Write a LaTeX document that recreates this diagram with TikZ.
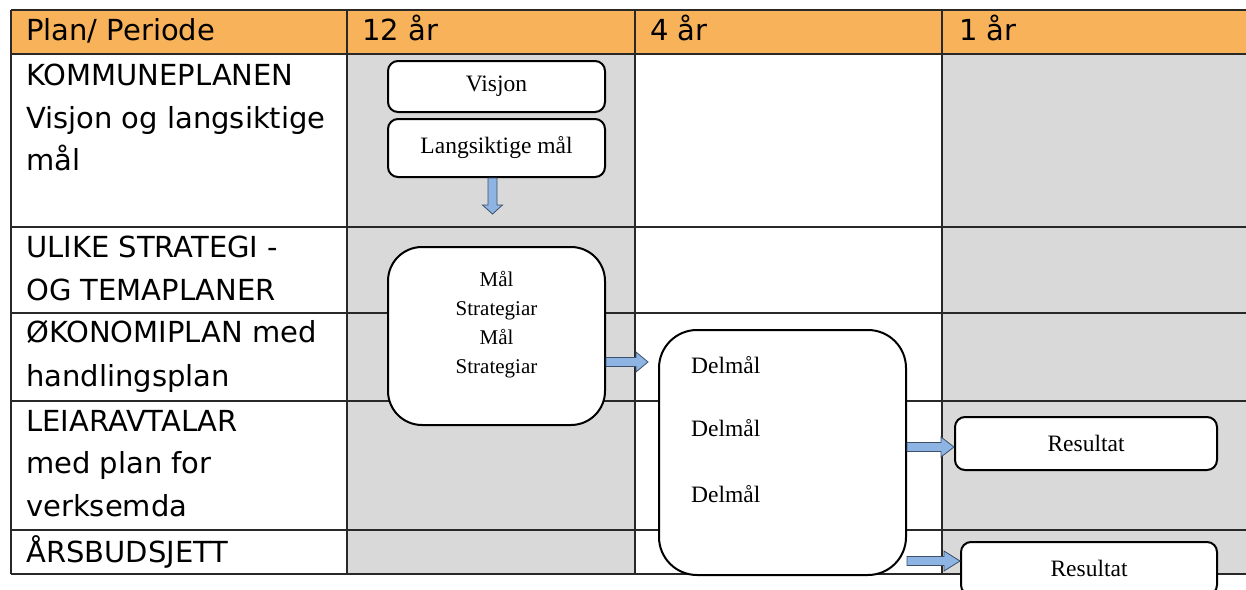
\documentclass[tikz,border=0pt]{standalone}
\usepackage{fontspec}
\setmainfont{Liberation Serif}
\newfontfamily\tablefont{DejaVu Sans}
\usetikzlibrary{calc}

\definecolor{headorange}{RGB}{247,178,90}
\definecolor{cellgray}{RGB}{217,217,217}
\definecolor{arrowblue}{RGB}{141,180,226}
\definecolor{arrowedge}{RGB}{60,80,105}
\definecolor{gridline}{RGB}{40,40,40}

\tikzset{
  celltext/.style={anchor=base west, inner sep=0pt, font=\tablefont\fontsize{29}{35}\selectfont},
  grid/.style={draw=gridline, line width=1.2pt},
  goalbox/.style={draw, line width=2pt, fill=white, rounded corners=10pt, inner sep=0pt,
    font=\fontsize{23.5}{28}\selectfont},
  goaltext/.style={inner sep=0pt, font=\fontsize{23.5}{28}\selectfont},
  blockarrow/.style={fill=arrowblue, draw=arrowedge, line width=0.8pt, line join=miter},
}

% block arrow: [head length]{start}{tip}
\newcommand\blockarrow[3][13pt]{%
  \coordinate (hb) at ($(#3)!#1!(#2)$);
  \draw[blockarrow] ($(#2)!4.5pt!90:(#3)$) -- ($(hb)!4.5pt!90:(#3)$) -- ($(hb)!10pt!90:(#3)$)
    -- (#3) -- ($(hb)!10pt!-90:(#3)$) -- ($(hb)!4.5pt!-90:(#3)$) -- ($(#2)!4.5pt!-90:(#3)$) -- cycle;
}

\begin{document}
\begin{tikzpicture}[x=1pt,y=-1pt]
  \useasboundingbox (0,0) rectangle (1246,589);
  \clip (0,0) rectangle (1246,589);

  % table
  \fill[headorange] (11,10) rectangle (1246,54);
  \fill[cellgray] (347,54) rectangle (635,574);
  \fill[cellgray] (942,54) rectangle (1246,574);
  \foreach \y in {10,54,227,313,401,530,574}
    \draw[grid] (11,\y) -- (1246,\y);
  \foreach \x in {11,347,635,942}
    \draw[grid] (\x,10) -- (\x,574);

  \node[celltext] (hplan) at (26,40) {Plan/ Periode};
  \node[celltext] (h12) at (362,40) {12 år};
  \node[celltext] (h4) at (650,40) {4 år};
  \node[celltext] (h1) at (959,40) {1 år};

  \foreach \y/\t [count=\i] in {85/KOMMUNEPLANEN, 128/Visjon og langsiktige, 170/mål,
      257/ULIKE STRATEGI -, 300/OG TEMAPLANER, 342/ØKONOMIPLAN med, 386/handlingsplan,
      431/LEIARAVTALAR, 473/med plan for, 516/verksemda, 562/ÅRSBUDSJETT}
    \node[celltext] (row\i) at (26,\y) {\t};

  % boxes
  \node[goalbox, minimum width=217pt, minimum height=51pt] (visjon) at (496.5,86.5) {Visjon};
  \node[goalbox, minimum width=217pt, minimum height=58pt] (langsiktig) at (496.5,148) {Langsiktige mål};
  \node[goalbox, rounded corners=34pt, minimum width=217pt, minimum height=178pt] (strategi) at (496.5,336) {};
  \node[inner sep=0pt, align=center, font=\fontsize{21}{29}\selectfont] (strategitxt) at (496.5,324.5)
    {Mål\\Strategiar\\Mål\\Strategiar};
  \node[goalbox, rounded corners=38pt, minimum width=247pt, minimum height=245pt] (delmaal) at (782.5,452.5) {};
  \foreach \y [count=\i] in {373,436,502}
    \node[goaltext, anchor=base west] (delmaal\i) at (691,\y) {Delmål};
  \node[goalbox, minimum width=262pt, minimum height=53pt] (resultat1) at (1086,443.5) {Resultat};
  \node[goalbox, minimum width=256pt, minimum height=53pt] (resultat2) at (1089,568.5) {Resultat};

  % arrows
  \coordinate (a0s) at ($(langsiktig.south)+(-4,0)$);
  \coordinate (a0e) at ($(langsiktig.south)+(-4,36)$);
  \blockarrow[9pt]{a0s}{a0e}
  \coordinate (a1s) at (strategi.east |- 0,362);
  \coordinate (a1e) at ($(delmaal.west |- 0,362)+(-10,0)$);
  \blockarrow[12pt]{a1s}{a1e}
  \coordinate (a2s) at (delmaal.east |- 0,447);
  \coordinate (a2e) at (resultat1.west |- 0,447);
  \blockarrow{a2s}{a2e}
  \coordinate (a3s) at (delmaal.east |- 0,561);
  \coordinate (a3e) at (resultat2.west |- 0,561);
  \blockarrow[16pt]{a3s}{a3e}
\end{tikzpicture}
\end{document}
